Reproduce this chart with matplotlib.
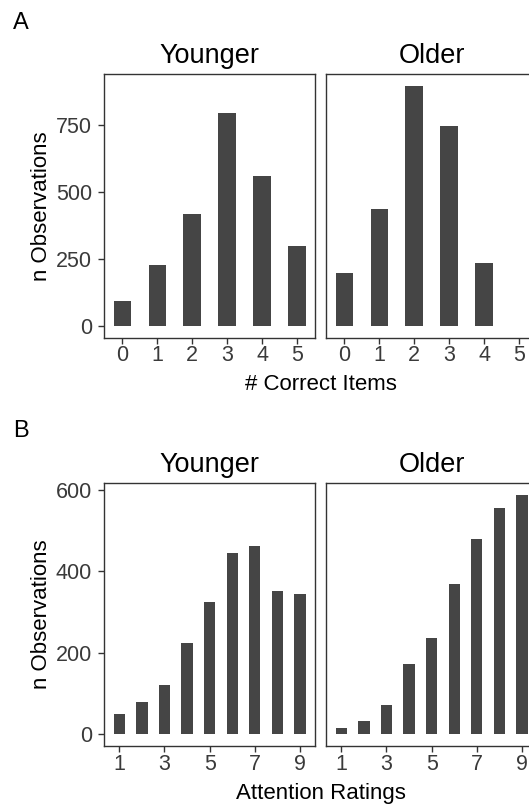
import matplotlib.pyplot as plt

plt.rcParams['font.family'] = ['Liberation Sans', 'DejaVu Sans']

W, H = 529, 805

# panel A: number of correct items per group
groups = ["Younger", "Older"]
correct_items = [0, 1, 2, 3, 4, 5]
correct_younger = [93, 226, 416, 797, 560, 298]
correct_older = [198, 436, 895, 745, 236, 0]
correct_yticks = [0, 250, 500, 750]

# panel B: attention ratings per group
ratings = [1, 2, 3, 4, 5, 6, 7, 8, 9]
attn_younger = [50, 78, 121, 224, 324, 445, 462, 352, 343]
attn_older = [16, 31, 72, 173, 236, 369, 479, 556, 588]
rating_xticks = [1, 3, 5, 7, 9]
attn_yticks = [0, 200, 400, 600]

BAR = '#454545'
LINE = '#333333'
TICKTXT = '#3a3a3a'


def px_axes(fig, left, top, width, height):
    # place an axes using pixel coords measured from the top-left corner
    return fig.add_axes([left / W, 1 - (top + height) / H, width / W, height / H])


def draw_row(fig, top, height, xs, series, xticks, yticks, xlabel, label_y, letter, letter_y):
    ymax = max(max(s) for s in series)
    span = (max(xs) + 0.25) - (min(xs) - 0.25)
    xlim = (min(xs) - 0.25 - 0.05 * span, max(xs) + 0.25 + 0.05 * span)
    ylim = (-0.05 * ymax, 1.05 * ymax)
    lefts = [104, 326]
    for i, (name, vals) in enumerate(zip(groups, series)):
        ax = px_axes(fig, lefts[i], top, 211.3, height)
        ax.bar(xs, vals, width=0.5, color=BAR, linewidth=0)
        ax.set_xlim(*xlim)
        ax.set_ylim(*ylim)
        ax.set_xticks(xticks)
        ax.set_title(name, fontsize=19.5, pad=8, color='black')
        for sp in ax.spines.values():
            sp.set_color(LINE)
            sp.set_linewidth(1.0)
        ax.tick_params(axis='x', length=4, width=1.0, color=LINE,
                       labelsize=15.5, labelcolor=TICKTXT, pad=1.5)
        if i == 0:
            ax.set_yticks(yticks)
            ax.tick_params(axis='y', length=4, width=1.0, color=LINE,
                           labelsize=15.5, labelcolor=TICKTXT, pad=4.5)
        else:
            ax.set_yticks([])
    mid_y = 1 - (top + height / 2) / H
    fig.text(47 / W, mid_y, "n Observations", rotation=90, rotation_mode='anchor',
             ha='center', va='baseline', fontsize=16)
    fig.text(320.7 / W, 1 - label_y / H, xlabel, ha='center', va='baseline', fontsize=16)
    fig.text(13 / W, 1 - letter_y / H, letter, ha='left', va='baseline', fontsize=17)


fig = plt.figure(figsize=(W / 100, H / 100), dpi=100)

draw_row(fig, 74.3, 263.5, correct_items, [correct_younger, correct_older],
         correct_items, correct_yticks, "# Correct Items", 390, "A", 29)
draw_row(fig, 482.7, 263.3, ratings, [attn_younger, attn_older],
         rating_xticks, attn_yticks, "Attention Ratings", 799, "B", 436.7)

fig.savefig("out.png", dpi=100)
